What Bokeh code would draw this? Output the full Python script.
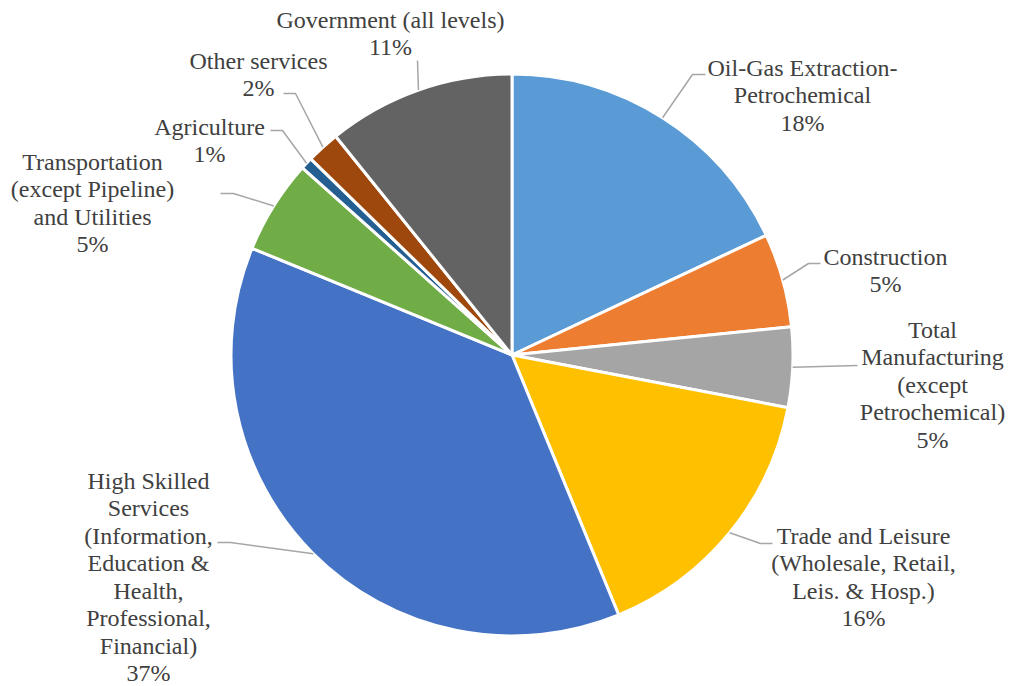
import math
from bokeh.plotting import figure
from bokeh.models import Range1d, ColumnDataSource
from bokeh.core.properties import value
from bokeh.embed import file_html
from bokeh.resources import INLINE

# ---- data ----
categories = [
    "Oil-Gas Extraction-Petrochemical",
    "Construction",
    "Total Manufacturing (except Petrochemical)",
    "Trade and Leisure (Wholesale, Retail, Leis. & Hosp.)",
    "High Skilled Services (Information, Education & Health, Professional, Financial)",
    "Transportation (except Pipeline) and Utilities",
    "Agriculture",
    "Other services",
    "Government (all levels)",
]
label_lines = [
    ["Oil-Gas Extraction-", "Petrochemical"],
    ["Construction"],
    ["Total", "Manufacturing", "(except", "Petrochemical)"],
    ["Trade and Leisure", "(Wholesale, Retail,", "Leis. & Hosp.)"],
    ["High Skilled", "Services", "(Information,", "Education &", "Health,", "Professional,", "Financial)"],
    ["Transportation", "(except Pipeline)", "and Utilities"],
    ["Agriculture"],
    ["Other services"],
    ["Government (all levels)"],
]
shares = [18.0, 5.4, 4.6, 15.8, 37.4, 5.4, 0.7, 1.9, 10.8]
colors = ["#5B9BD5", "#ED7D31", "#A5A5A5", "#FFC000", "#4472C4",
          "#70AD47", "#255E91", "#9E480E", "#636363"]

# ---- layout (screen pixel coordinates, y downward) ----
W, H = 1009, 686
CX, CY, R = 511.5, 354.5, 281
label_pos = [(802, 68), (885, 257), (932, 330), (863, 536), (148, 481),
             (92, 162), (209, 127), (258, 61), (390, 20)]
leader_pts = [
    [(692, 74), (705, 74)],
    [(808, 263), (820, 263)],
    [(857, 365)],
    [(760, 543), (772, 543)],
    [(230, 542), (217, 542)],
    [(233, 193), (220, 193)],
    [(282, 130), (270, 130)],
    [(295, 93), (283, 93)],
    [(417, 60)],
]
LINE_H = 27.5
BASE_OFF = 12  # from text middle to em-box bottom for 24px text

def fy(y):
    return H - y

total = sum(shares)
starts, ends, mids = [], [], []
cum = 0.0
for s in shares:
    f0 = cum / total
    cum += s
    f1 = cum / total
    starts.append(math.pi / 2 - 2 * math.pi * f0)
    ends.append(math.pi / 2 - 2 * math.pi * f1)
    mids.append((f0 + f1) / 2)

p = figure(width=W, height=H, output_backend="svg", toolbar_location=None,
           x_range=Range1d(0, W), y_range=Range1d(0, H),
           x_axis_type=None, y_axis_type=None, min_border=0)
p.grid.visible = False
p.outline_line_color = None

src = ColumnDataSource(dict(x=[CX] * len(shares), y=[fy(CY)] * len(shares),
                            start=starts, end=ends, color=colors, name=categories))
p.wedge(x="x", y="y", radius=R, start_angle="start", end_angle="end",
        direction="clock", fill_color="color", line_color="white", line_width=3,
        source=src)

# leader lines
xs, ys = [], []
for m, pts in zip(mids, leader_pts):
    a = 2 * math.pi * m
    sx = CX + R * math.sin(a)
    sy = CY - R * math.cos(a)
    xs.append([sx] + [q[0] for q in pts])
    ys.append([fy(sy)] + [fy(q[1]) for q in pts])
p.multi_line(xs=xs, ys=ys, line_color="#A6A6A6", line_width=1.5)

# labels
for lines, s, (lx, ly) in zip(label_lines, shares, label_pos):
    full = lines + ["%d%%" % round(s / total * 100)]
    p.text(x=[lx] * len(full),
           y=[fy(ly + i * LINE_H + BASE_OFF) for i in range(len(full))],
           text=full, text_align="center",
           text_font=value("Liberation Serif"), text_font_size="24px",
           text_color="#404040")

open("out.html", "w").write(file_html(p, INLINE))
